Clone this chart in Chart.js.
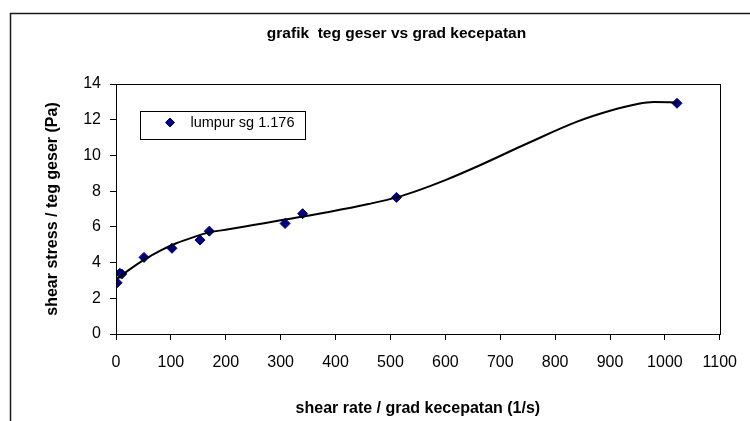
<!DOCTYPE html>
<html>
<head>
<meta charset="utf-8">
<script src="https://cdn.jsdelivr.net/npm/chart.js@4/dist/chart.umd.min.js"></script>
<style>
  html, body { margin: 0; padding: 0; background: #ffffff; }
  #wrap { width: 750px; height: 421px; }
</style>
</head>
<body>
<div id="wrap"><canvas id="c" width="750" height="421"></canvas></div>
<script>
// Measured samples: shear rate (1/s) and shear stress (Pa)
const shearRate   = [2, 7, 10.5, 51, 102, 153, 170, 308, 340, 511, 1022];
const shearStress = [2.87, 3.40, 3.36, 4.29, 4.80, 5.26, 5.76, 6.19, 6.74, 7.65, 12.92];

// Smoothed trend curve through the measurements
const curveRate   = [0, 25, 50, 80, 110, 140, 170, 205, 250, 310, 390, 460, 511, 552, 600, 660, 750, 840, 900, 950, 980, 1022];
const curveStress = [3.05, 3.62, 4.14, 4.66, 5.08, 5.41, 5.69, 5.86, 6.10, 6.42, 6.85, 7.28, 7.65, 8.06, 8.62, 9.41, 10.68, 11.89, 12.50, 12.88, 12.99, 12.97];

// Axis ticks
const xTicks = [0, 100, 200, 300, 400, 500, 600, 700, 800, 900, 1000, 1100];
const yTicks = [0, 2, 4, 6, 8, 10, 12, 14];

const chartTitle = 'grafik  teg geser vs grad kecepatan';
const xTitle = 'shear rate / grad kecepatan (1/s)';
const yTitle = 'shear stress / teg geser (Pa)';
const seriesName = 'lumpur sg 1.176';

const FONT = "'Liberation Sans', Arial, sans-serif";
const MARKER = '#000080';

const toPoints = (xs, ys) => xs.map((x, i) => ({ x: x, y: ys[i] }));

// Outer frame, plot box, title and in-plot legend
const decor = {
  id: 'decor',
  beforeDraw(chart) {
    const ctx = chart.ctx;
    ctx.save();
    ctx.fillStyle = '#ffffff';
    ctx.fillRect(0, 0, chart.width, chart.height);
    ctx.restore();
  },
  afterDraw(chart) {
    const ctx = chart.ctx;
    const a = chart.chartArea;
    ctx.save();
    // outer frame (left and top edges)
    ctx.strokeStyle = '#1a1a1a';
    ctx.lineWidth = 1.5;
    ctx.beginPath();
    ctx.moveTo(10.5, chart.height);
    ctx.lineTo(10.5, 13.5);
    ctx.lineTo(chart.width, 13.5);
    ctx.stroke();
    // plot box
    ctx.strokeStyle = '#000000';
    ctx.lineWidth = 1;
    ctx.strokeRect(Math.round(a.left) + 0.5, Math.round(a.top) + 0.5,
                   Math.round(a.right - a.left), Math.round(a.bottom - a.top));
    // title
    ctx.fillStyle = '#000000';
    ctx.font = 'bold 15.5px ' + FONT;
    ctx.textAlign = 'center';
    ctx.textBaseline = 'middle';
    ctx.fillText(chartTitle, 396.5, 33.5);
    // legend
    const ds = chart.data.datasets[1];
    ctx.strokeStyle = '#000000';
    ctx.lineWidth = 1;
    ctx.strokeRect(140.5, 111.5, 165, 28);
    ctx.fillStyle = ds.pointBackgroundColor;
    ctx.strokeStyle = ds.pointBorderColor;
    Chart.helpers.drawPoint(ctx, { pointStyle: 'rectRot', radius: 4.5, rotation: 0, borderWidth: 1 }, 170, 122.5);
    ctx.fillStyle = '#000000';
    ctx.font = '14.5px ' + FONT;
    ctx.textAlign = 'left';
    ctx.textBaseline = 'alphabetic';
    ctx.fillText(ds.label, 190.5, 127);
    ctx.restore();
  }
};

const plain = v => String(v);

new Chart(document.getElementById('c'), {
  type: 'scatter',
  data: {
    datasets: [
      {
        type: 'line',
        label: 'trend',
        data: toPoints(curveRate, curveStress),
        borderColor: '#000000',
        borderWidth: 2,
        pointRadius: 0,
        cubicInterpolationMode: 'monotone',
        fill: false,
        order: 0
      },
      {
        label: seriesName,
        data: toPoints(shearRate, shearStress),
        pointStyle: 'rectRot',
        pointRadius: 5,
        pointBackgroundColor: MARKER,
        pointBorderColor: MARKER,
        pointBorderWidth: 1,
        showLine: false,
        order: 1
      }
    ]
  },
  options: {
    responsive: false,
    animation: false,
    devicePixelRatio: 1,
    layout: { padding: { left: 10, right: 28, top: 84, bottom: 0 } },
    plugins: {
      legend: { display: false },
      title: { display: false },
      tooltip: { enabled: false }
    },
    scales: {
      x: {
        type: 'linear',
        min: xTicks[0],
        max: xTicks[xTicks.length - 1],
        afterBuildTicks: s => { s.ticks = xTicks.map(v => ({ value: v })); },
        afterFit: s => { s.height = 87; },
        grid: { drawOnChartArea: false, drawTicks: true, tickLength: 6, color: '#000000' },
        border: { display: true, color: '#000000', width: 1 },
        ticks: { color: '#000000', padding: 13, maxRotation: 0, callback: plain, font: { family: FONT, size: 16 } },
        title: {
          display: true, text: xTitle, color: '#000000',
          font: { family: FONT, size: 16, weight: 'bold' },
          padding: { top: 0, bottom: 3 }
        }
      },
      y: {
        type: 'linear',
        min: yTicks[0],
        max: yTicks[yTicks.length - 1],
        afterBuildTicks: s => { s.ticks = yTicks.map(v => ({ value: v })); },
        afterFit: s => { s.width = 106; },
        grid: { drawOnChartArea: false, drawTicks: true, tickLength: 6, color: '#000000' },
        border: { display: true, color: '#000000', width: 1 },
        ticks: { color: '#000000', padding: 9, callback: plain, font: { family: FONT, size: 16 } },
        title: {
          display: true, text: yTitle, color: '#000000',
          font: { family: FONT, size: 16, weight: 'bold' },
          padding: { top: 33, bottom: 0 }
        }
      }
    }
  },
  plugins: [decor]
});
</script>
</body>
</html>
